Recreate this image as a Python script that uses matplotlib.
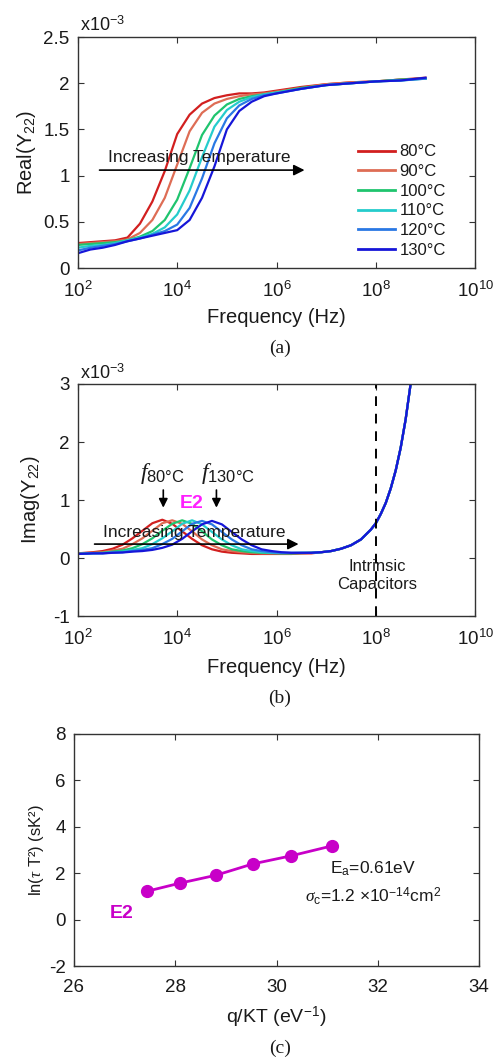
import numpy as np
import matplotlib
matplotlib.use('Agg')
import matplotlib.pyplot as plt

plt.rcParams['font.family'] = ['Liberation Sans', 'DejaVu Sans']
plt.rcParams['mathtext.fontset'] = 'custom'
plt.rcParams['mathtext.rm'] = 'Liberation Sans'
plt.rcParams['mathtext.it'] = 'Liberation Serif:italic'
plt.rcParams['mathtext.bf'] = 'Liberation Sans:bold'
plt.rcParams['axes.unicode_minus'] = False

# ---- data (admittance values in units of 1e-3 S) ----
temps = ['80°C', '90°C', '100°C', '110°C', '120°C', '130°C']
colors = ['#d21f1f', '#de6d55', '#1fc46e', '#25cccc', '#2a78e4', '#1616d8']

# panel (a): Real(Y22)
logf_re = [2.0, 2.25, 2.5, 2.75, 3.0, 3.25, 3.5, 3.75, 4.0, 4.25, 4.5, 4.75,
           5.0, 5.25, 5.5, 5.75, 6.0, 6.5, 7.0, 7.5, 8.0, 8.5, 9.0]
re_80 = [0.27, 0.28, 0.29, 0.30, 0.33, 0.48, 0.72, 1.05, 1.45, 1.66, 1.78, 1.84,
         1.87, 1.89, 1.89, 1.90, 1.92, 1.96, 1.99, 2.01, 2.02, 2.04, 2.06]
re_90 = [0.26, 0.27, 0.28, 0.29, 0.31, 0.38, 0.52, 0.76, 1.12, 1.48, 1.68, 1.78,
         1.83, 1.86, 1.88, 1.89, 1.91, 1.95, 1.99, 2.01, 2.02, 2.04, 2.05]
re_100 = [0.25, 0.26, 0.27, 0.28, 0.30, 0.34, 0.40, 0.52, 0.74, 1.08, 1.44, 1.65,
          1.77, 1.83, 1.86, 1.88, 1.90, 1.95, 1.98, 2.00, 2.02, 2.04, 2.05]
re_110 = [0.22, 0.24, 0.25, 0.27, 0.30, 0.33, 0.37, 0.44, 0.58, 0.84, 1.20, 1.53,
          1.71, 1.80, 1.85, 1.88, 1.90, 1.94, 1.98, 2.00, 2.02, 2.03, 2.05]
re_120 = [0.19, 0.22, 0.24, 0.26, 0.29, 0.32, 0.36, 0.40, 0.47, 0.65, 0.97, 1.35,
          1.62, 1.76, 1.83, 1.87, 1.89, 1.94, 1.98, 2.00, 2.02, 2.03, 2.05]
re_130 = [0.16, 0.20, 0.22, 0.25, 0.29, 0.32, 0.35, 0.38, 0.41, 0.52, 0.76, 1.10,
          1.50, 1.70, 1.80, 1.86, 1.89, 1.94, 1.98, 2.00, 2.02, 2.03, 2.06]

# panel (b): Imag(Y22)
logf_im = [2.0, 2.3, 2.5, 2.7, 2.9, 3.1, 3.3, 3.5, 3.7, 3.9, 4.1, 4.3, 4.5, 4.7,
           4.9, 5.1, 5.3, 5.5, 5.7, 5.9, 6.1, 6.3, 6.5, 6.7, 6.9, 7.1, 7.3, 7.5,
           7.7, 7.9, 8.0, 8.1, 8.2, 8.3, 8.4, 8.5, 8.6, 8.7, 8.75]
im_80 = [0.08, 0.10, 0.12, 0.16, 0.23, 0.34, 0.47, 0.60, 0.66, 0.59, 0.46, 0.33,
         0.22, 0.15, 0.11, 0.09, 0.08, 0.07, 0.07, 0.07, 0.07, 0.07, 0.08, 0.08,
         0.10, 0.12, 0.16, 0.22, 0.32, 0.49, 0.60, 0.76, 0.95, 1.20, 1.51, 1.90,
         2.39, 3.00, 3.37]
im_90 = [0.08, 0.09, 0.10, 0.13, 0.16, 0.24, 0.34, 0.47, 0.60, 0.65, 0.59, 0.46,
         0.32, 0.22, 0.15, 0.12, 0.10, 0.09, 0.08, 0.08, 0.08, 0.08, 0.08, 0.09,
         0.10, 0.12, 0.16, 0.22, 0.32, 0.49, 0.60, 0.76, 0.95, 1.20, 1.51, 1.90,
         2.39, 3.00, 3.37]
im_100 = [0.07, 0.085, 0.09, 0.11, 0.13, 0.17, 0.24, 0.34, 0.47, 0.59, 0.65, 0.59,
          0.46, 0.32, 0.22, 0.15, 0.12, 0.10, 0.09, 0.085, 0.08, 0.08, 0.085, 0.09,
          0.10, 0.12, 0.16, 0.22, 0.32, 0.49, 0.60, 0.76, 0.95, 1.20, 1.51, 1.90,
          2.39, 3.00, 3.37]
im_110 = [0.07, 0.08, 0.085, 0.10, 0.11, 0.14, 0.17, 0.24, 0.34, 0.46, 0.59, 0.65,
          0.58, 0.45, 0.32, 0.22, 0.15, 0.12, 0.10, 0.09, 0.085, 0.085, 0.09, 0.09,
          0.10, 0.12, 0.16, 0.22, 0.32, 0.49, 0.60, 0.76, 0.95, 1.20, 1.51, 1.90,
          2.39, 3.00, 3.37]
im_120 = [0.07, 0.08, 0.08, 0.095, 0.10, 0.12, 0.14, 0.17, 0.24, 0.33, 0.46, 0.59,
          0.64, 0.58, 0.45, 0.32, 0.22, 0.15, 0.12, 0.10, 0.09, 0.09, 0.09, 0.09,
          0.10, 0.12, 0.16, 0.22, 0.32, 0.49, 0.60, 0.76, 0.95, 1.20, 1.51, 1.90,
          2.39, 3.00, 3.37]
im_130 = [0.07, 0.08, 0.08, 0.09, 0.095, 0.11, 0.12, 0.14, 0.175, 0.23, 0.33, 0.46,
          0.58, 0.64, 0.58, 0.45, 0.32, 0.22, 0.15, 0.12, 0.10, 0.09, 0.09, 0.09,
          0.10, 0.12, 0.16, 0.22, 0.32, 0.49, 0.60, 0.76, 0.95, 1.20, 1.51, 1.90,
          2.39, 3.00, 3.37]

# panel (c): Arrhenius plot
qkt = [27.44, 28.09, 28.80, 29.53, 30.29, 31.10]
ln_tau_t2 = [1.22, 1.57, 1.91, 2.40, 2.75, 3.18]

re_curves = [re_80, re_90, re_100, re_110, re_120, re_130]
im_curves = [im_80, im_90, im_100, im_110, im_120, im_130]

TXT = '#1a1a1a'
fig = plt.figure(figsize=(4.96, 10.59), dpi=100)


def style_axes(ax):
    for s in ax.spines.values():
        s.set_color('#333333')
        s.set_linewidth(1.0)
    ax.tick_params(direction='in', top=True, right=True, length=4, width=0.8,
                   labelsize=13.5, colors='#333333', labelcolor=TXT)
    ax.tick_params(axis='x', pad=9)
    ax.tick_params(axis='y', pad=6)


# ---------- (a) ----------
ax1 = fig.add_axes([0.157, 0.7469, 0.801, 0.2181])
f_re = 10 ** np.array(logf_re)
for vals, c, t in zip(re_curves, colors, temps):
    ax1.plot(f_re, vals, color=c, lw=1.6, label=t)
ax1.set_xscale('log')
ax1.set_xlim(1e2, 1e10)
ax1.set_ylim(0, 2.5)
ax1.set_xticks([1e2, 1e4, 1e6, 1e8, 1e10])
ax1.minorticks_off()
ax1.set_yticks([0, 0.5, 1, 1.5, 2, 2.5])
ax1.set_yticklabels(['0', '0.5', '1', '1.5', '2', '2.5'])
style_axes(ax1)
ax1.set_xlabel('Frequency (Hz)', fontsize=14.5, color=TXT)
ax1.xaxis.set_label_coords(0.5, -0.175)
ax1.set_ylabel('Real(Y$_{22}$)', fontsize=14.5, color=TXT)
ax1.yaxis.set_label_coords(-0.10, 0.5)
ax1.annotate('', xy=(10 ** 6.62, 1.06), xytext=(10 ** 2.38, 1.06),
             arrowprops=dict(arrowstyle='-|>', color='k', lw=1.2, mutation_scale=16))
ax1.text(10 ** 2.6, 1.20, 'Increasing Temperature', fontsize=12.5, color=TXT,
         ha='left', va='center')
leg = ax1.legend(loc='upper left', bbox_to_anchor=(0.705, 0.535), frameon=False,
                 fontsize=12, handlelength=2.2, handletextpad=0.3, labelspacing=0.28,
                 borderpad=0, borderaxespad=0, labelcolor=TXT)
for h in leg.get_lines():
    h.set_linewidth(2.0)
fig.text(80 / 496, 1 - 25 / 1059, 'x10$^{-3}$', fontsize=13, color=TXT,
         ha='left', va='center')
fig.text(280 / 496, 1 - 348 / 1059, '(a)', family='Liberation Serif',
         fontsize=14, ha='center', va='center', color=TXT)

# ---------- (b) ----------
ax2 = fig.add_axes([0.157, 0.4183, 0.801, 0.2191])
f_im = 10 ** np.array(logf_im)
for vals, c in zip(im_curves, colors):
    ax2.plot(f_im, vals, color=c, lw=1.6)
ax2.axvline(1e8, color='k', lw=1.4, ls=(0, (5, 4)))
ax2.set_xscale('log')
ax2.set_xlim(1e2, 1e10)
ax2.set_ylim(-1, 3)
ax2.set_xticks([1e2, 1e4, 1e6, 1e8, 1e10])
ax2.minorticks_off()
ax2.set_yticks([-1, 0, 1, 2, 3])
ax2.set_yticklabels(['-1', '0', '1', '2', '3'])
style_axes(ax2)
ax2.set_xlabel('Frequency (Hz)', fontsize=14.5, color=TXT)
ax2.xaxis.set_label_coords(0.5, -0.181)
ax2.set_ylabel('Imag(Y$_{22}$)', fontsize=14.5, color=TXT)
ax2.yaxis.set_label_coords(-0.091, 0.5)
ax2.annotate('', xy=(10 ** 6.5, 0.24), xytext=(10 ** 2.28, 0.24),
             arrowprops=dict(arrowstyle='-|>', color='k', lw=1.2, mutation_scale=16))
ax2.text(10 ** 2.51, 0.44, 'Increasing Temperature', fontsize=12.5, color=TXT,
         ha='left', va='center')
for xa in (10 ** 3.72, 10 ** 4.79):
    ax2.annotate('', xy=(xa, 0.82), xytext=(xa, 1.22),
                 arrowprops=dict(arrowstyle='-|>', color='k', lw=1.2, mutation_scale=13))
ax2.text(10 ** 3.70, 1.25, r'$f_{\rm 80°C}$', fontsize=17, color=TXT,
         ha='center', va='bottom')
ax2.text(10 ** 5.02, 1.25, r'$f_{\rm 130°C}$', fontsize=17, color=TXT,
         ha='center', va='bottom')
ax2.text(10 ** 4.29, 0.94, 'E2', fontsize=14, fontweight='bold', color='#ff1fff',
         ha='center', va='center')
ax2.text(10 ** 8.02, -0.30, 'Intrinsic\nCapacitors', fontsize=12, color=TXT,
         ha='center', va='center', linespacing=1.3)
fig.text(80 / 496, 1 - 373 / 1059, 'x10$^{-3}$', fontsize=13, color=TXT,
         ha='left', va='center')
fig.text(280 / 496, 1 - 698 / 1059, '(b)', family='Liberation Serif',
         fontsize=14, ha='center', va='center', color=TXT)

# ---------- (c) ----------
ax3 = fig.add_axes([0.149, 0.0878, 0.817, 0.2191])
ax3.plot(qkt, ln_tau_t2, color='#c800c8', lw=2, marker='o', ms=8.5)
ax3.set_xlim(26, 34)
ax3.set_ylim(-2, 8)
ax3.set_xticks([26, 28, 30, 32, 34])
ax3.set_yticks([-2, 0, 2, 4, 6, 8])
ax3.set_yticklabels(['-2', '0', '2', '4', '6', '8'])
style_axes(ax3)
ax3.set_xlabel('q/KT (eV$^{-1}$)', fontsize=14, color=TXT)
ax3.xaxis.set_label_coords(0.5, -0.165)
ax3.set_ylabel(r'ln($\tau$ T²) (sK²)', fontsize=12, color=TXT)
ax3.yaxis.set_label_coords(-0.069, 0.5)
ax3.text(26.94, 0.26, 'E2', fontsize=14, fontweight='bold', color='#c800c8',
         ha='center', va='center')
ax3.text(31.9, 2.17, 'E$_{\\rm a}$=0.61eV', fontsize=12.5, color=TXT,
         ha='center', va='center')
ax3.text(31.9, 1.0, r'$\sigma_{\rm c}$=1.2 $\times$10$^{-14}$cm$^2$', fontsize=12.5,
         color=TXT, ha='center', va='center')
fig.text(280 / 496, 1 - 1048 / 1059, '(c)', family='Liberation Serif',
         fontsize=14, ha='center', va='center', color=TXT)

fig.savefig('out.png', dpi=100)
